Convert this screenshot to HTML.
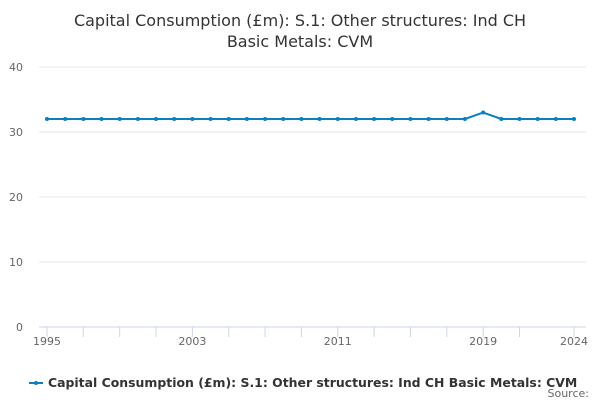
<!DOCTYPE html>
<html><head><meta charset="utf-8"><style>
body{margin:0;background:#fff;font-family:"Liberation Sans","DejaVu Sans",sans-serif}
</style></head><body>
<svg width="600" height="400" font-family="DejaVu Sans, Liberation Sans, sans-serif">
<text x="300" y="26" text-anchor="middle" font-size="16" fill="#333">Capital Consumption (£m): S.1: Other structures: Ind CH</text>
<text x="300" y="47" text-anchor="middle" font-size="16" fill="#333">Basic Metals: CVM</text>
<g id="grid"></g><g id="xaxis"></g><g id="series"></g>
<g>
<line x1="29" y1="383" x2="43" y2="383" stroke="#0b7fc2" stroke-width="2"/>
<circle cx="36" cy="383" r="2" fill="#0b7fc2"/>
<text x="48" y="387" font-size="12.45" font-weight="bold" fill="#333">Capital Consumption (£m): S.1: Other structures: Ind CH Basic Metals: CVM</text>
</g>
<text x="589" y="397" text-anchor="end" font-size="11" fill="#666">Source:</text>
</svg>
<script>
const years=[];for(let y=1995;y<=2024;y++)years.push(y);
const values=[32,32,32,32,32,32,32,32,32,32,32,32,32,32,32,32,32,32,32,32,32,32,32,32,33,32,32,32,32,32];
const yTicks=[0,10,20,30,40];
const xLabels=[1995,2003,2011,2019,2024];
const xTicks=[1995,1997,1999,2001,2003,2005,2007,2009,2011,2013,2015,2017,2019,2021,2024];
const NS='http://www.w3.org/2000/svg';
const X=y=>47+(y-1995)*(574-47)/29;
const Y=v=>327-v*6.5;
function mk(t,a,p){const e=document.createElementNS(NS,t);for(const k in a)e.setAttribute(k,a[k]);p.appendChild(e);return e;}
const grid=document.getElementById('grid'),xa=document.getElementById('xaxis'),se=document.getElementById('series');
yTicks.forEach(v=>{
 const l=mk('line',{x1:39,x2:586,y1:Y(v),y2:Y(v),stroke:v===0?'#ccd6eb':'#e6e6e6','stroke-width':1},grid);
 
 
 const t=mk('text',{x:23,y:Y(v)+4,'text-anchor':'end','font-size':11,fill:'#666'},grid);t.textContent=v;
 
 
});
xTicks.forEach(y=>{
 const l=mk('line',{x1:X(y),x2:X(y),y1:327,y2:337,stroke:'#ccd6eb'},xa);
 
 
});
xLabels.forEach(y=>{
 const t=mk('text',{x:X(y),y:345,'text-anchor':'middle','font-size':11,fill:'#666'},xa);t.textContent=y;
 
 
});
const p=mk('polyline',{points:years.map((y,i)=>X(y)+','+Y(values[i])).join(' '),fill:'none',stroke:'#0b7fc2','stroke-width':2},se);


years.forEach((y,i)=>{
 const c=mk('circle',{cx:X(y),cy:Y(values[i]),r:2,fill:'#0b7fc2'},se);
 
 
});
</script>
</body></html>
